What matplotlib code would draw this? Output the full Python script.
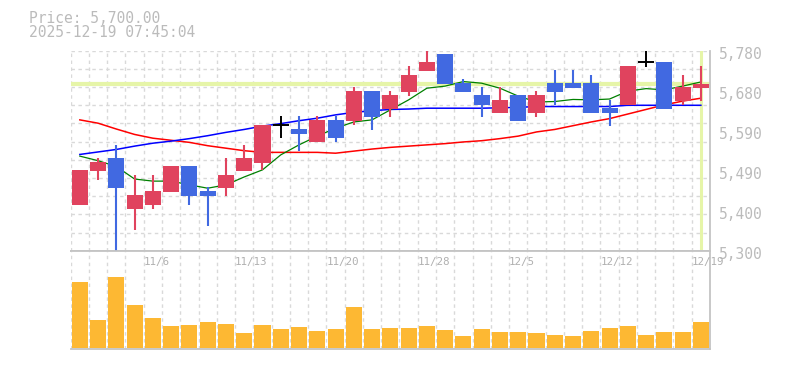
import numpy as np
import matplotlib.pyplot as plt
from matplotlib.transforms import blended_transform_factory, ScaledTranslation

# OHLC data (daily, 10/30 .. 12/19)
opens  = [5410, 5491, 5522, 5400, 5410, 5441, 5503, 5443, 5450, 5492,
          5511, 5602, 5592, 5562, 5614, 5612, 5683, 5640, 5682, 5732,
          5772, 5702, 5674, 5630, 5674, 5630, 5702, 5702, 5702, 5642,
          5650, 5753, 5753, 5659, 5690]
highs  = [5494, 5522, 5554, 5482, 5482, 5503, 5503, 5453, 5522, 5554,
          5602, 5623, 5623, 5623, 5623, 5694, 5683, 5683, 5743, 5780,
          5772, 5712, 5693, 5693, 5674, 5683, 5734, 5734, 5722, 5662,
          5743, 5780, 5753, 5722, 5743]
lows   = [5410, 5470, 5300, 5350, 5400, 5441, 5410, 5359, 5431, 5492,
          5494, 5571, 5540, 5562, 5562, 5602, 5590, 5622, 5672, 5732,
          5700, 5681, 5622, 5630, 5611, 5622, 5650, 5690, 5630, 5600,
          5650, 5741, 5640, 5650, 5660]
closes = [5494, 5513, 5450, 5434, 5443, 5503, 5431, 5431, 5482, 5522,
          5602, 5602, 5581, 5614, 5571, 5683, 5622, 5674, 5722, 5753,
          5700, 5681, 5650, 5662, 5611, 5674, 5681, 5690, 5630, 5630,
          5743, 5753, 5640, 5693, 5700]
volume = [657, 277, 707, 427, 297, 217, 227, 257, 237, 147,
          227, 187, 207, 167, 187, 407, 187, 197, 197, 217,
          177, 117, 187, 157, 157, 147, 127, 117, 167, 197,
          217, 127, 157, 157, 257]

# moving averages
ma_short = [5527, 5516, 5502, 5472, 5467, 5467, 5458, 5450, 5458, 5477,
            5494, 5530, 5554, 5575, 5594, 5609, 5614, 5638, 5662, 5690,
            5695, 5706, 5702, 5690, 5671, 5657, 5658, 5663, 5662, 5664,
            5683, 5689, 5686, 5695, 5705]
ma_mid   = [5531, 5537, 5543, 5551, 5558, 5563, 5569, 5576, 5584, 5591,
            5599, 5605, 5612, 5618, 5626, 5632, 5636, 5639, 5640, 5642,
            5642, 5642, 5642, 5643, 5644, 5646, 5646, 5646, 5646, 5646,
            5649, 5649, 5649, 5649, 5649]
ma_long  = [5614, 5606, 5592, 5579, 5570, 5565, 5560, 5552, 5546, 5540,
            5536, 5536, 5536, 5536, 5534, 5539, 5544, 5548, 5551, 5554,
            5557, 5561, 5564, 5569, 5575, 5585, 5591, 5600, 5609, 5617,
            5628, 5639, 5650, 5659, 5666]

date_pos = [4, 9, 14, 19, 24, 29, 34]
date_labels = ['11/6', '11/13', '11/20', '11/28', '12/5', '12/12', '12/19']
price_ticks = [5300, 5396, 5492, 5588, 5684, 5780]
price_labels = ['5,300', '5,400', '5,490', '5,590', '5,680', '5,780']
last_price = 5700
timestamp = '2025-12-19 07:45:04'

UP = '#e0435e'
DOWN = '#4169e1'
GRID = '#d9d9d9'
FRAME = '#c4c4c4'
TXT = '#bbbbbb'
HL = '#e6f5a8'
mono = 'DejaVu Sans Mono'

n = len(closes)
x = np.arange(n)

fig = plt.figure(figsize=(7.85, 3.7), dpi=100)
ax = fig.add_axes([70.7 / 785, 1 - 250.7 / 370, (710 - 70.7) / 785, 200 / 370])
axv = fig.add_axes([70.7 / 785, 1 - 349.3 / 370, (710 - 70.7) / 785, 98.6 / 370])

# --- price panel ---
ax.set_xlim(-0.5, n - 0.5)
ax.set_ylim(5300, 5780)
for gy in np.linspace(5300, 5780, 12)[1:]:
    ax.axhline(gy, color=GRID, lw=1, ls=(0, (2.5, 2.5)), zorder=0)
for i in range(n):
    ax.axvline(i - 0.5, color=GRID, lw=1, ls=(0, (2.5, 2.5)), zorder=0)

ax.axhline(last_price, color=HL, lw=3, zorder=1)
ax.axvline(n - 1, ymin=0.013, color=HL, lw=2.2, zorder=1)

ax.plot(x, ma_long, color='red', lw=1.1, zorder=2)
ax.plot(x, ma_mid, color='blue', lw=1.1, zorder=2)
ax.plot(x, ma_short, color='green', lw=0.9, zorder=2)

w = 0.88
for i in range(n):
    o, h, l, c = opens[i], highs[i], lows[i], closes[i]
    if c == o:
        ax.vlines(i, l, h, color='black', lw=1.4, zorder=4)
        ax.hlines(c, i - w / 2, i + w / 2, color='black', lw=1.4, zorder=4)
        continue
    col = UP if c > o else DOWN
    ax.vlines(i, l, h, color=col, lw=1.5, zorder=3)
    ax.bar(i, abs(c - o), bottom=min(o, c), width=w, color=col, zorder=4)

for s in ['left', 'top']:
    ax.spines[s].set_visible(False)
for s in ['right', 'bottom']:
    ax.spines[s].set_color(FRAME)
    ax.spines[s].set_linewidth(1.3)
ax.set_xticks([])
ax.set_yticks([])

tr = blended_transform_factory(ax.transAxes, ax.transData) + \
    ScaledTranslation(0, -2.5 / 72, fig.dpi_scale_trans)
for v, lab in zip(price_ticks, price_labels):
    ax.text(1.014, v, lab, transform=tr, ha='left', va='center',
            fontsize=10.5, family=mono, color=TXT, clip_on=False)

# --- volume panel ---
axv.set_xlim(-0.5, n - 0.5)
axv.set_ylim(-16, 970)
for i in range(n):
    axv.axvline(i - 0.5, color=GRID, lw=1, ls=(0, (2.5, 2.5)), zorder=0)
axv.bar(x, volume, width=w, color='#fdb833', zorder=2)
axv.spines['left'].set_visible(False)
for s in ['right', 'bottom', 'top']:
    axv.spines[s].set_color(FRAME)
    axv.spines[s].set_linewidth(1.3)
axv.set_xticks([])
axv.set_yticks([])

trv = blended_transform_factory(axv.transData, axv.transAxes)
for p, lab in zip(date_pos, date_labels):
    axv.text(p - 0.5, 0.885, lab, transform=trv, ha='left', va='center',
             fontsize=7.8, family=mono, color='#b0b0b0', clip_on=False, zorder=3)

# --- header ---
fig.text(29 / 785, 1 - 22.7 / 370, 'Price: {:,.2f}'.format(last_price),
         fontsize=10.5, family=mono, color=TXT, va='baseline')
fig.text(29 / 785, 1 - 37.3 / 370, timestamp,
         fontsize=10.5, family=mono, color=TXT, va='baseline')

fig.savefig('out.png', dpi=100)
